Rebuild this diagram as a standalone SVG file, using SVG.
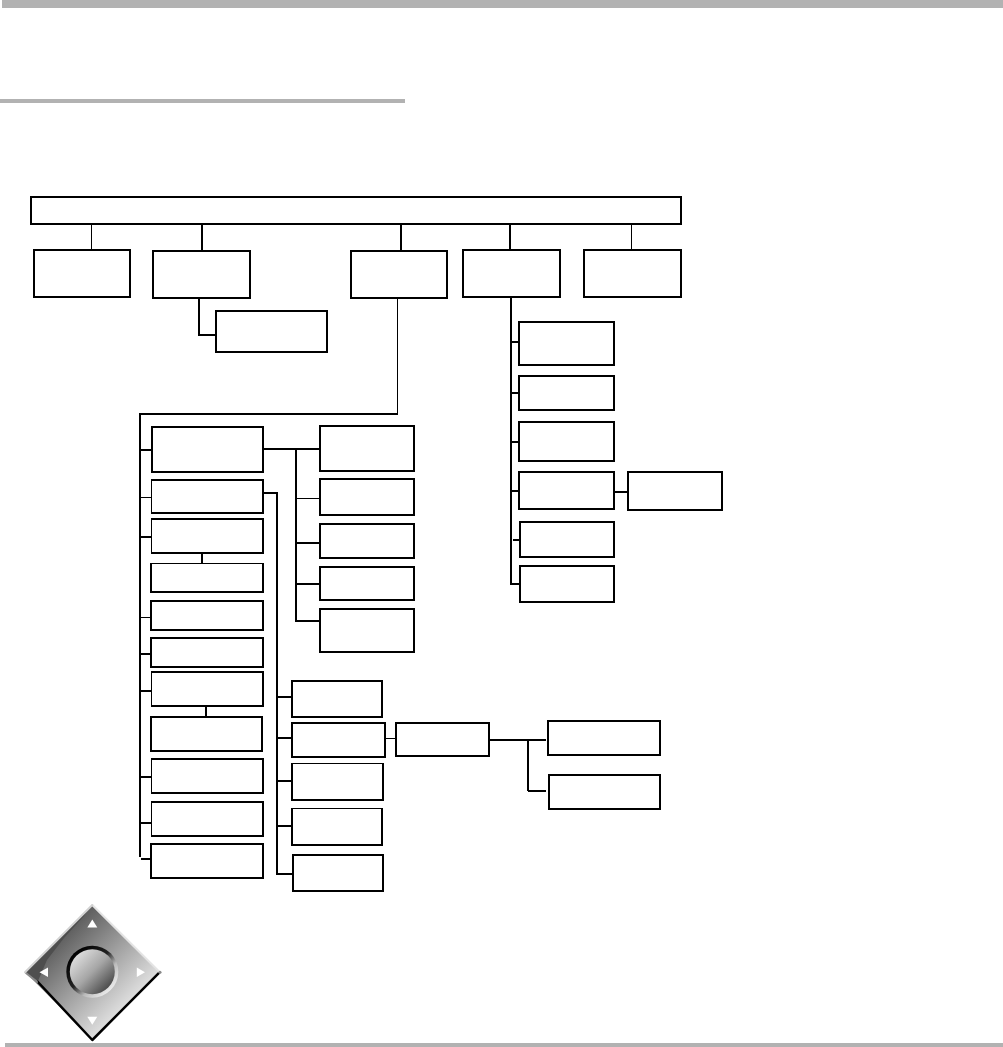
<svg xmlns="http://www.w3.org/2000/svg" width="1003" height="1047" viewBox="0 0 1003 1047">
<style>
.box{fill:#fff;stroke:#000;stroke-width:2}
.open{fill:#fff;stroke:#000;stroke-width:2;stroke-linecap:square}
.thin{fill:none;stroke:#000;stroke-width:1}
.c{fill:none;stroke:#000;stroke-width:2}
.t{fill:none;stroke:#000;stroke-width:1}
.bar{fill:#b2b2b2}
.tri{fill:#fff}
</style>
<defs>
<linearGradient id="pad" gradientUnits="userSpaceOnUse" x1="58" y1="938" x2="128" y2="1008">
<stop offset="0" stop-color="#5c5c5c"/><stop offset="0.5" stop-color="#a0a0a0"/><stop offset="1" stop-color="#e2e2e2"/>
</linearGradient>
<linearGradient id="ring" gradientUnits="userSpaceOnUse" x1="73" y1="953" x2="111" y2="991">
<stop offset="0" stop-color="#000"/><stop offset="0.45" stop-color="#222"/><stop offset="0.7" stop-color="#bbb"/><stop offset="1" stop-color="#eee"/>
</linearGradient>
<linearGradient id="knob" gradientUnits="userSpaceOnUse" x1="76" y1="956" x2="108" y2="988">
<stop offset="0" stop-color="#dcdcdc"/><stop offset="0.5" stop-color="#a6a6a6"/><stop offset="1" stop-color="#4c4c4c"/>
</linearGradient>
</defs>
<rect class="bar" x="2" y="0" width="1001" height="8"/>
<rect class="bar" x="0" y="99" width="405" height="4"/>
<rect class="bar" x="5" y="1043" width="998" height="4"/>
<g id="connectors">
<path class="t" d="M91.500 224V250M631.500 224V250M397.500 298V414M151 497.500H140M151 617.500H140M296 498.500H320M385 738.500H396"/>
<path class="c" d="M202 224V251M401 224V251M510 224V250M199 298V336M199 335H216"/>
<path class="c" d="M398 414H140M140 413V857M140 450H152M140 537H152M140 654H151M140 691H152M140 777H152M140 823H152M141 859H151"/>
<path class="c" d="M202 553V565M206 706V717"/>
<path class="c" d="M263 449H320M296 449V622M296 543H320M296 584H320M296 621H320"/>
<path class="c" d="M263 493H278M277 493V875M277 697H292M277 738H292M277 781H292M277 826H292M277 874H293"/>
<path class="c" d="M489 740H546M528 740V791M528 791H546"/>
<path class="c" d="M511 298V585M511 342H519M511 393H519M511 442H519M511 491H519M513 540H520M511 584H520M614 492H628"/>
</g>
<g id="root"><rect class="box" x="31" y="197" width="650" height="27"/></g>
<g id="top-a"><rect class="box" x="34" y="250" width="96" height="47"/></g>
<g id="top-b"><rect class="box" x="153" y="251" width="97" height="47"/></g>
<g id="top-b-child"><rect class="box" x="216" y="311" width="111" height="41"/></g>
<g id="top-c"><rect class="box" x="351" y="251" width="96" height="47"/></g>
<g id="top-d"><rect class="box" x="463" y="250" width="97" height="47"/></g>
<g id="top-e"><rect class="box" x="584" y="250" width="97" height="47"/></g>
<g id="l1"><rect class="box" x="152" y="427" width="111" height="45"/></g>
<g id="l2"><path class="open" d="M152 480H263V513H152"/><path class="thin" d="M151.500 480V513"/></g>
<g id="l3"><path class="open" d="M152 519H263V553H152"/><path class="thin" d="M151.500 519V553"/></g>
<g id="l4"><path class="open" d="M151 564V592H263V564"/><path class="thin" d="M150 563.500H264"/></g>
<g id="l5"><rect class="box" x="151" y="601" width="112" height="29"/></g>
<g id="l6"><rect class="box" x="151" y="638" width="112" height="29"/></g>
<g id="l7"><path class="open" d="M152 672H263V706H152"/><path class="thin" d="M151.500 672V706"/></g>
<g id="l8"><rect class="box" x="151" y="717" width="111" height="34"/></g>
<g id="l9"><path class="open" d="M152 759H263V793H152"/><path class="thin" d="M151.500 759V793"/></g>
<g id="l10"><path class="open" d="M152 802H263V836H152"/><path class="thin" d="M151.500 802V836"/></g>
<g id="l11"><rect class="box" x="151" y="844" width="112" height="34"/></g>
<g id="r1"><rect class="box" x="320" y="426" width="94" height="45"/></g>
<g id="r2"><rect class="box" x="320" y="479" width="94" height="36"/></g>
<g id="r3"><rect class="box" x="320" y="524" width="94" height="34"/></g>
<g id="r4"><rect class="box" x="320" y="567" width="94" height="33"/></g>
<g id="r5"><rect class="box" x="320" y="609" width="94" height="43"/></g>
<g id="m1"><rect class="box" x="292" y="681" width="90" height="36"/></g>
<g id="m2"><rect class="box" x="292" y="723" width="93" height="34"/></g>
<g id="m3"><path class="open" d="M292 764V800H383V764"/><path class="thin" d="M291 763.500H384"/></g>
<g id="m4"><path class="open" d="M292 809V845H382V809"/><path class="thin" d="M291 808.500H383"/></g>
<g id="m5"><rect class="box" x="293" y="855" width="90" height="36"/></g>
<g id="n"><rect class="box" x="396" y="723" width="93" height="33"/></g>
<g id="p1"><rect class="box" x="548" y="721" width="112" height="34"/></g>
<g id="p2"><rect class="box" x="549" y="775" width="111" height="34"/></g>
<g id="q1"><rect class="box" x="519" y="322" width="95" height="43"/></g>
<g id="q2"><rect class="box" x="519" y="376" width="95" height="34"/></g>
<g id="q3"><rect class="box" x="519" y="422" width="95" height="39"/></g>
<g id="q4"><rect class="box" x="519" y="472" width="95" height="37"/></g>
<g id="s"><rect class="box" x="628" y="472" width="94" height="38"/></g>
<g id="q5"><rect class="box" x="520" y="522" width="94" height="35"/></g>
<g id="q6"><rect class="box" x="520" y="566" width="94" height="36"/></g>
<g id="dpad">
<path d="M92.300 905.500L159.500 972.300L92.300 1040L25.500 972.300Z" fill="url(#pad)"/>
<path d="M26 973L87 911L84 916L64 938L47 960L38 981Z" fill="#4e4e4e"/>
<path d="M37 981L92.300 1040L159.500 972.300" fill="none" stroke="#000" stroke-width="2.500" stroke-linejoin="round"/>
<path d="M26 973L37 982" fill="none" stroke="#8a8a8a" stroke-width="2" stroke-linecap="round"/>
<path d="M92.300 905L159.800 972.300" fill="none" stroke="#e4e4e4" stroke-width="2" stroke-linecap="round"/>
<path d="M92.300 905L25 972.300" fill="none" stroke="#d2d2d2" stroke-width="2" stroke-linecap="round"/>
<circle cx="160" cy="972.300" r="1.500" fill="#8a8a8a"/>
<circle cx="92.300" cy="971.700" r="26" fill="url(#ring)"/>
<circle cx="92.300" cy="971.700" r="22.500" fill="url(#knob)"/>
<polygon class="tri" points="92.300,919.500 87.300,927.500 97.300,927.500"/>
<polygon class="tri" points="39.500,972.300 48,967.500 48,977"/>
<polygon class="tri" points="145,972.300 136.800,967.500 136.800,977"/>
<polygon class="tri" points="92.300,1024.800 87.300,1016.800 97.300,1016.800"/>
</g>
</svg>
